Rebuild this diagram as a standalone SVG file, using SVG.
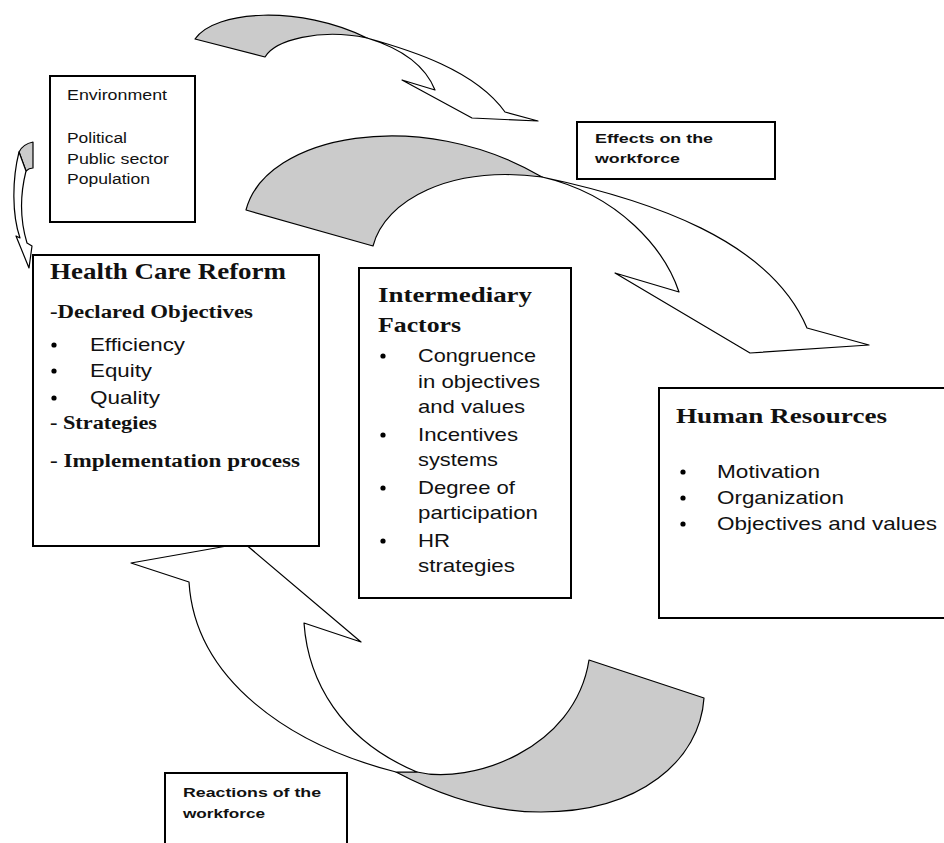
<svg xmlns="http://www.w3.org/2000/svg" width="944" height="843" viewBox="0 0 944 843">
<style>
.bg{fill:#fff}
.box{fill:#fff;stroke:#000;stroke-width:2}
.grey{fill:#cbcbcb;stroke:#000;stroke-width:1.2;stroke-linejoin:round}
.front{fill:#fff;stroke:#000;stroke-width:1.2;stroke-linejoin:round}
.dot{fill:#000}
.h{font-family:"Liberation Serif","Times New Roman",serif;font-weight:bold;fill:#111}
.t{font-family:"Liberation Sans",Arial,sans-serif;fill:#111}
.b{font-family:"Liberation Sans",Arial,sans-serif;font-weight:bold;fill:#111}
</style>
<rect class="bg" x="0" y="0" width="944" height="843"/>
<g id="connectors">
  <path class="grey" d="M195,39 L265,57 C275,40 320,28 367,38 C300,5 215,10 195,39 Z"/>
  <path class="front" d="M367,38 C410,50 475,70 505,112 L538,121 L472,118 L402,80 L435,90 C425,65 400,48 367,38 Z"/>
  <path class="grey" d="M246,210 L373,246 C385,200 450,165 542,177 C420,105 265,135 246,210 Z"/>
  <path class="front" d="M542,177 C650,200 770,240 807,328 L869,345 L750,353 L615,273 L679,292 C665,250 620,195 542,177 Z"/>
  <path class="grey" d="M589,660 L704,698 C700,760 640,812 541,812 C480,812 430,790 396,772 L417,772 C470,785 575,750 589,660 Z"/>
  <path class="front" d="M396,772 C290,745 195,680 189,582 L131,563 L244,543 L361,642 L304,623 C308,680 340,740 417,772 Z"/>
  <path class="grey" d="M19,152 C22,146 28,143 33,142 L33,168 C30,168 28,169 26,171 Z"/>
  <path class="front" d="M19,152 C12,180 12,215 20,238 L16,236 L29,268 L32,246 L27,243 C20,220 20,195 26,171 Z"/>
</g>
<g id="environment">
  <rect class="box" x="50" y="76" width="145" height="146"/>
  <text class="t" font-size="14" x="67" y="100" textLength="100" lengthAdjust="spacingAndGlyphs">Environment</text>
  <text class="t" font-size="14" x="67" y="143" textLength="60" lengthAdjust="spacingAndGlyphs">Political</text>
  <text class="t" font-size="14" x="67" y="164" textLength="102" lengthAdjust="spacingAndGlyphs">Public sector</text>
  <text class="t" font-size="14" x="67" y="184" textLength="83" lengthAdjust="spacingAndGlyphs">Population</text>
</g>
<g id="effects">
  <rect class="box" x="577" y="122" width="198" height="57"/>
  <text class="b" font-size="13" x="595" y="143" textLength="118" lengthAdjust="spacingAndGlyphs">Effects on the</text>
  <text class="b" font-size="13" x="595" y="163" textLength="85" lengthAdjust="spacingAndGlyphs">workforce</text>
</g>
<g id="health-care-reform">
  <rect class="box" x="33" y="255" width="286" height="291"/>
  <text class="h" font-size="24" x="50" y="279" textLength="236" lengthAdjust="spacingAndGlyphs">Health Care Reform</text>
  <text class="h" font-size="18" x="50" y="318" textLength="203" lengthAdjust="spacingAndGlyphs">-Declared Objectives</text>
  <circle class="dot" cx="54" cy="345" r="2.6"/>
  <text class="t" font-size="19" x="90" y="351" textLength="95" lengthAdjust="spacingAndGlyphs">Efficiency</text>
  <circle class="dot" cx="54" cy="371" r="2.6"/>
  <text class="t" font-size="19" x="90" y="377" textLength="62" lengthAdjust="spacingAndGlyphs">Equity</text>
  <circle class="dot" cx="54" cy="398" r="2.6"/>
  <text class="t" font-size="19" x="90" y="404" textLength="70" lengthAdjust="spacingAndGlyphs">Quality</text>
  <text class="h" font-size="18" x="50" y="429" textLength="107" lengthAdjust="spacingAndGlyphs">- Strategies</text>
  <text class="h" font-size="18" x="50" y="467" textLength="250" lengthAdjust="spacingAndGlyphs">- Implementation process</text>
</g>
<g id="intermediary-factors">
  <rect class="box" x="359" y="268" width="212" height="330"/>
  <text class="h" font-size="22" x="378" y="302" textLength="154" lengthAdjust="spacingAndGlyphs">Intermediary</text>
  <text class="h" font-size="22" x="378" y="332" textLength="83" lengthAdjust="spacingAndGlyphs">Factors</text>
  <circle class="dot" cx="383" cy="356" r="2.6"/>
  <text class="t" font-size="19" x="418" y="362" textLength="118" lengthAdjust="spacingAndGlyphs">Congruence</text>
  <text class="t" font-size="19" x="418" y="388" textLength="122" lengthAdjust="spacingAndGlyphs">in objectives</text>
  <text class="t" font-size="19" x="418" y="413" textLength="107" lengthAdjust="spacingAndGlyphs">and values</text>
  <circle class="dot" cx="383" cy="435" r="2.6"/>
  <text class="t" font-size="19" x="418" y="441" textLength="100" lengthAdjust="spacingAndGlyphs">Incentives</text>
  <text class="t" font-size="19" x="418" y="466" textLength="80" lengthAdjust="spacingAndGlyphs">systems</text>
  <circle class="dot" cx="383" cy="488" r="2.6"/>
  <text class="t" font-size="19" x="418" y="494" textLength="97" lengthAdjust="spacingAndGlyphs">Degree of</text>
  <text class="t" font-size="19" x="418" y="519" textLength="120" lengthAdjust="spacingAndGlyphs">participation</text>
  <circle class="dot" cx="383" cy="541" r="2.6"/>
  <text class="t" font-size="19" x="418" y="547" textLength="32" lengthAdjust="spacingAndGlyphs">HR</text>
  <text class="t" font-size="19" x="418" y="572" textLength="97" lengthAdjust="spacingAndGlyphs">strategies</text>
</g>
<g id="human-resources">
  <rect class="box" x="659" y="388" width="300" height="230"/>
  <text class="h" font-size="21" x="676" y="423" textLength="211" lengthAdjust="spacingAndGlyphs">Human Resources</text>
  <circle class="dot" cx="683" cy="472" r="2.6"/>
  <text class="t" font-size="19" x="717" y="478" textLength="103" lengthAdjust="spacingAndGlyphs">Motivation</text>
  <circle class="dot" cx="683" cy="498" r="2.6"/>
  <text class="t" font-size="19" x="717" y="504" textLength="127" lengthAdjust="spacingAndGlyphs">Organization</text>
  <circle class="dot" cx="683" cy="524" r="2.6"/>
  <text class="t" font-size="19" x="717" y="530" textLength="220" lengthAdjust="spacingAndGlyphs">Objectives and values</text>
</g>
<g id="reactions">
  <rect class="box" x="165" y="773" width="182" height="80"/>
  <text class="b" font-size="13" x="183" y="797" textLength="138" lengthAdjust="spacingAndGlyphs">Reactions of the</text>
  <text class="b" font-size="13" x="183" y="818" textLength="82" lengthAdjust="spacingAndGlyphs">workforce</text>
</g>
</svg>
